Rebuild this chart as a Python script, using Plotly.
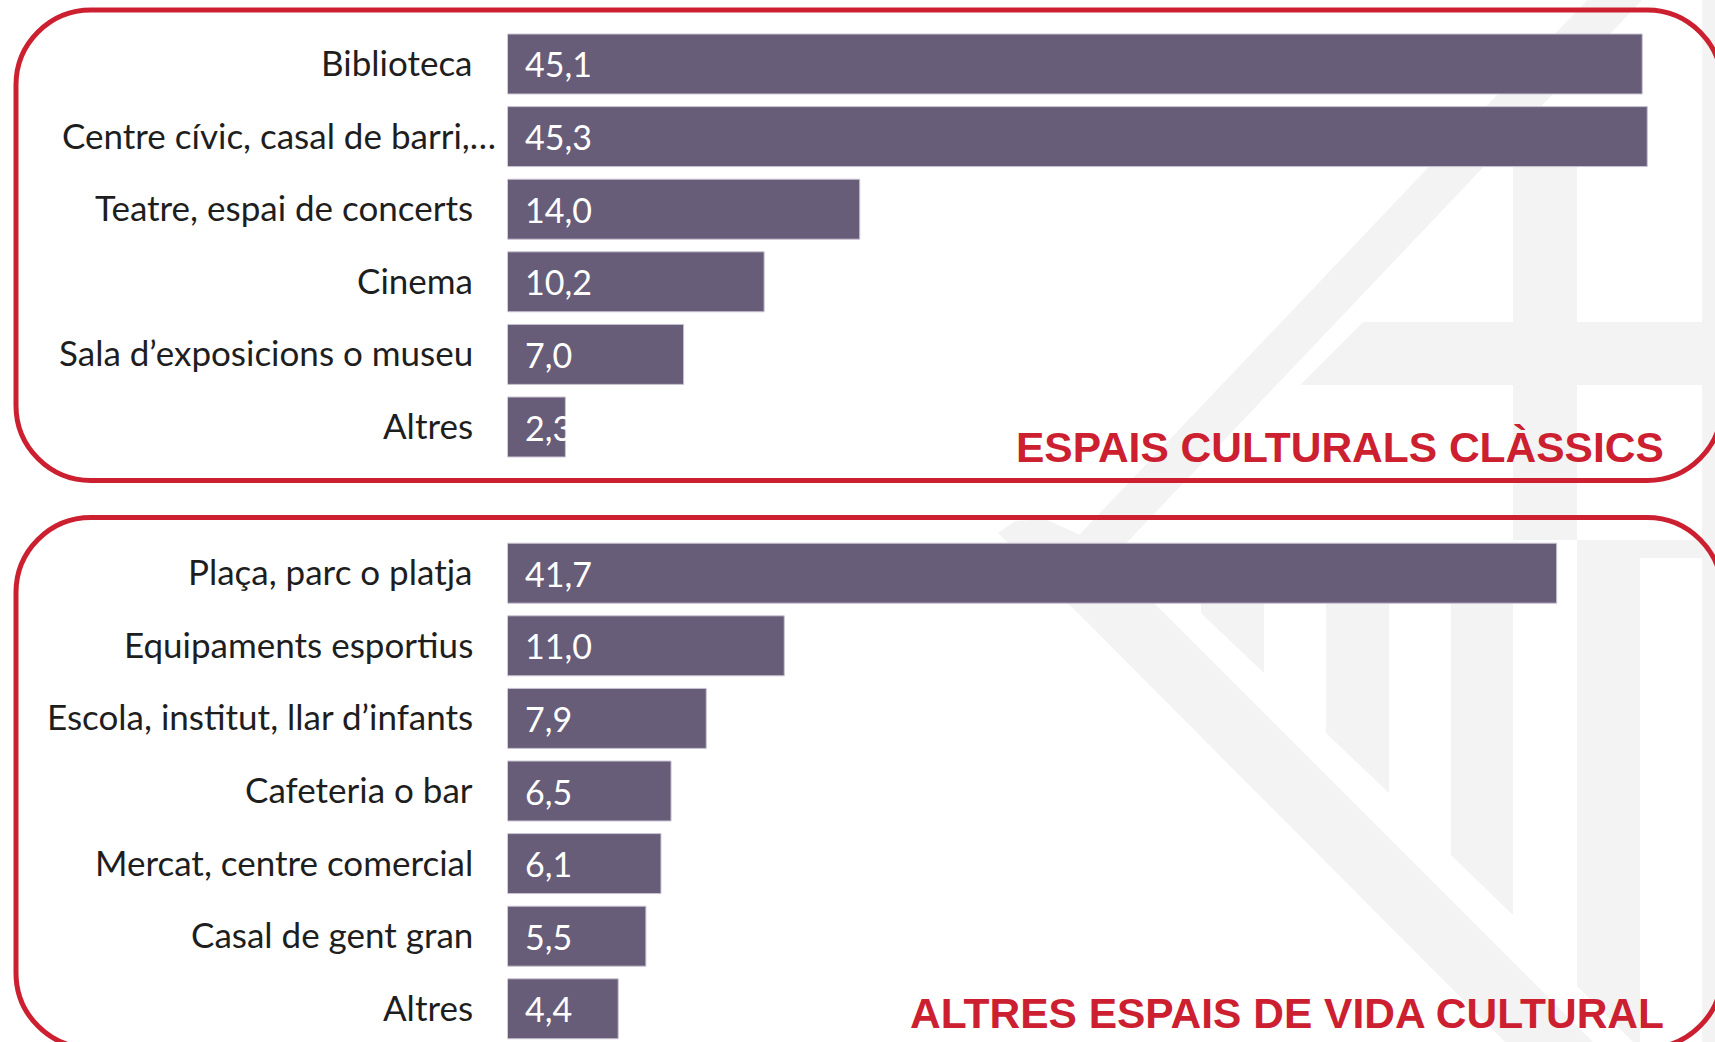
import plotly.graph_objects as go

# ---------------- data ----------------
cats_classic = ["Biblioteca", "Centre cívic, casal de barri,…", "Teatre, espai de concerts",
                "Cinema", "Sala d’exposicions o museu", "Altres"]
vals_classic = [45.1, 45.3, 14.0, 10.2, 7.0, 2.3]

cats_other = ["Plaça, parc o platja", "Equipaments esportius", "Escola, institut, llar d’infants",
              "Cafeteria o bar", "Mercat, centre comercial", "Casal de gent gran", "Altres"]
vals_other = [41.7, 11.0, 7.9, 6.5, 6.1, 5.5, 4.4]

title_classic = "ESPAIS CULTURALS CLÀSSICS"
title_other = "ALTRES ESPAIS DE VIDA CULTURAL"

# ---------------- style ----------------
W, H = 1715, 1042
BAR = "#675D78"
RED = "#CC2031"
WM = "#F2F3F2"
LABEL_FONT = "Lato, 'Open Sans', sans-serif"
TITLE_FONT = "'Liberation Sans', Arial, sans-serif"


def fx(x):
    return x / W


def fy(y):
    return 1 - y / H


def pt(x, y):
    return f"{fx(x):.5f},{fy(y):.5f}"


def poly(points):
    s = "M " + pt(*points[0])
    for p in points[1:]:
        s += " L " + pt(*p)
    return s + " Z"


def rrect(x0, y0, x1, y1, r):
    k = 0.5523 * r
    s = "M " + pt(x0 + r, y0)
    s += " L " + pt(x1 - r, y0)
    s += " C " + pt(x1 - r + k, y0) + " " + pt(x1, y0 + r - k) + " " + pt(x1, y0 + r)
    s += " L " + pt(x1, y1 - r)
    s += " C " + pt(x1, y1 - r + k) + " " + pt(x1 - r + k, y1) + " " + pt(x1 - r, y1)
    s += " L " + pt(x0 + r, y1)
    s += " C " + pt(x0 + r - k, y1) + " " + pt(x0, y1 - r + k) + " " + pt(x0, y1 - r)
    s += " L " + pt(x0, y0 + r)
    s += " C " + pt(x0, y0 + r - k) + " " + pt(x0 + r - k, y0) + " " + pt(x0 + r, y0)
    return s + " Z"


def fmt(v):
    return f"{v:.1f}".replace(".", ",")


fig = go.Figure()
fig.add_trace(go.Bar(y=cats_classic, x=vals_classic, orientation="h", xaxis="x", yaxis="y",
                     marker=dict(color=BAR, line=dict(color="#C9C3D2", width=1)),
                     hoverinfo="skip", showlegend=False))
fig.add_trace(go.Bar(y=cats_other, x=vals_other, orientation="h", xaxis="x2", yaxis="y2",
                     marker=dict(color=BAR, line=dict(color="#C9C3D2", width=1)),
                     hoverinfo="skip", showlegend=False))

# axis geometry
x_left = 507.5
px_per_unit = 25.16
xmax = (W - x_left) / px_per_unit
pitch = 72.6
top_c0 = 64.0
bot_c0 = 573.2
top_dom = [fy(top_c0 + (len(cats_classic) - 0.5) * pitch), fy(top_c0 - 0.5 * pitch)]
bot_top_px = bot_c0 - 0.5 * pitch
bot_units = (H - bot_top_px) / pitch
bot_dom = [0, fy(bot_top_px)]

xa = dict(domain=[fx(x_left), 1], range=[0, xmax], visible=False, fixedrange=True)
ya = dict(type="category", showgrid=False, zeroline=False, showline=False, ticks="",
          showticklabels=False, fixedrange=True)

fig.update_layout(
    width=W, height=H,
    margin=dict(l=0, r=0, t=0, b=0),
    paper_bgcolor="white", plot_bgcolor="rgba(0,0,0,0)",
    bargap=0.174,
    xaxis=dict(xa, anchor="y"),
    yaxis=dict(ya, domain=top_dom, range=[len(cats_classic) - 0.5, -0.5], anchor="x"),
    xaxis2=dict(xa, anchor="y2"),
    yaxis2=dict(ya, domain=bot_dom, range=[bot_units - 0.5, -0.5], anchor="x2"),
)

shapes = []
# watermark (faint logo)
wm_polys = [
    [(1592, -5), (1647, -5), (1647 - 0.95 * 565, 560), (1592 - 0.95 * 565, 560)],
    [(998, 533), (1015, 521), (1045, 519), (1091, 540), (1091 + 510, 1050), (1003 + 510, 1050)],
    [(1513, 167), (1577, 167), (1577, 540), (1513, 540)],
    [(1363, 322), (1715, 322), (1715, 385), (1300, 385)],
    [(1702, 0), (1715, 0), (1715, 1042), (1702, 1042)],
    [(1577, 540), (1715, 540), (1715, 558), (1577, 558)],
    [(1201, 545), (1264, 545), (1264, 673), (1201, 613)],
    [(1326, 545), (1389, 545), (1389, 793), (1326, 733)],
    [(1451, 545), (1513, 545), (1513, 915), (1451, 855)],
    [(1577, 545), (1640, 545), (1640, 1049), (1577, 986)],
]
for p in wm_polys:
    shapes.append(dict(type="path", xref="paper", yref="paper", path=poly(p),
                       fillcolor=WM, line=dict(width=0), layer="below"))

# red rounded frames
shapes.append(dict(type="path", xref="paper", yref="paper", path=rrect(16, 10, 1722, 480.5, 75),
                   line=dict(color=RED, width=5), fillcolor="rgba(0,0,0,0)", layer="above"))
shapes.append(dict(type="path", xref="paper", yref="paper", path=rrect(16, 517.5, 1722, 1048, 75),
                   line=dict(color=RED, width=5), fillcolor="rgba(0,0,0,0)", layer="above"))

annotations = []
for axx, axy, cats, vals in (("x", "y", cats_classic, vals_classic),
                             ("x2", "y2", cats_other, vals_other)):
    for c, v in zip(cats, vals):
        # category label (truncated labels sit closer to the bar)
        annotations.append(dict(x=0, y=c, xref=axx, yref=axy, text=c, showarrow=False,
                                xanchor="right", yanchor="middle",
                                xshift=-10 if c.endswith("…") else -33, yshift=2,
                                font=dict(family=LABEL_FONT, size=35, color="#1E1E1E")))
        # value label inside the bar
        annotations.append(dict(x=0, y=c, xref=axx, yref=axy, text=fmt(v), showarrow=False,
                                xanchor="left", yanchor="middle", xshift=15.5, yshift=0,
                                font=dict(family=LABEL_FONT, size=34, color="white")))

annotations.append(dict(x=fx(1666), y=fy(447), xref="paper", yref="paper", text=title_classic,
                        showarrow=False, xanchor="right", yanchor="middle",
                        font=dict(family=TITLE_FONT, size=42.5, color=RED, weight="bold")))
annotations.append(dict(x=fx(1666), y=fy(1013), xref="paper", yref="paper", text=title_other,
                        showarrow=False, xanchor="right", yanchor="middle",
                        font=dict(family=TITLE_FONT, size=42.5, color=RED, weight="bold")))

fig.update_layout(shapes=shapes, annotations=annotations)
fig.write_html("out.html", config={"displayModeBar": False},
               post_script="document.body.style.margin='0';document.body.style.overflow='hidden';")
